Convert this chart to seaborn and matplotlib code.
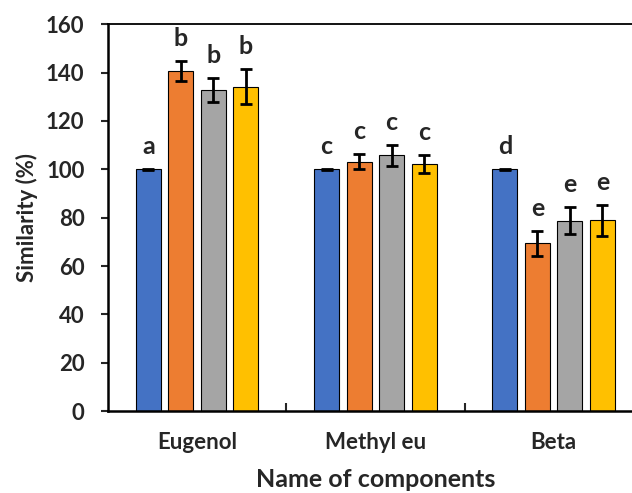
import pandas as pd
import seaborn as sns
import matplotlib.pyplot as plt
import numpy as np

# Data
components = ["Eugenol", "Methyl eu", "Beta"]
treatments = ["T1", "T2", "T3", "T4"]
means = {
    "T1": [100.0, 100.0, 100.0],
    "T2": [140.6, 103.2, 69.4],
    "T3": [132.8, 105.7, 78.8],
    "T4": [134.2, 102.3, 78.9],
}
errors = {
    "T1": [0.3, 0.3, 0.3],
    "T2": [4.3, 3.0, 5.1],
    "T3": [5.1, 4.4, 5.7],
    "T4": [7.2, 3.8, 6.5],
}
letters = {
    "T1": ["a", "c", "d"],
    "T2": ["b", "c", "e"],
    "T3": ["b", "c", "e"],
    "T4": ["b", "c", "e"],
}
colors = ["#4472C4", "#ED7D31", "#A5A5A5", "#FFC000"]

rows = []
for t in treatments:
    for i, c in enumerate(components):
        rows.append({"component": c, "treatment": t, "value": means[t][i],
                     "err": errors[t][i], "letter": letters[t][i]})
df = pd.DataFrame(rows)

sns.set_style("white")
plt.rcParams["font.family"] = ["Lato", "DejaVu Sans"]
plt.rcParams["font.weight"] = "bold"

fig = plt.figure(figsize=(6.32, 4.93), dpi=100)
ax = fig.add_axes([0.171, 0.166, 0.846, 0.785])

sns.barplot(data=df, x="component", y="value", hue="treatment", order=components,
            hue_order=treatments, palette=colors, width=0.73, gap=0.23,
            errorbar=None, edgecolor="black", linewidth=0.8, saturation=1,
            legend=False, ax=ax)

# error bars and significance letters on top of each bar
for t, cont in zip(treatments, ax.containers):
    for i, p in enumerate(cont.patches):
        xc = p.get_x() + p.get_width() / 2
        top = means[t][i] + errors[t][i]
        ax.errorbar(xc, means[t][i], yerr=errors[t][i], color="black",
                    capsize=4, elinewidth=2, capthick=2)
        ax.text(xc, top + 4.5, letters[t][i], ha="center", va="bottom",
                fontsize=18, fontweight="bold")

ax.set_ylim(0, 160)
ax.set_yticks(range(0, 161, 20))
ax.set_xlim(-0.5, 2.5)
ax.set_xticks([0, 1, 2])
ax.set_xticks([0.5, 1.5], minor=True)
ax.tick_params(axis="x", which="major", length=0, labelsize=16, pad=15)
ax.tick_params(axis="x", which="minor", direction="in", length=6, width=1.5, bottom=True)
ax.tick_params(axis="y", direction="out", length=5, width=1.5, labelsize=16, left=True, pad=12)
for lbl in ax.get_xticklabels() + ax.get_yticklabels():
    lbl.set_fontweight("bold")

ax.set_xlabel("Name of components", fontsize=18, fontweight="bold", labelpad=11)
ax.set_ylabel("Similarity (%)", fontsize=16, fontweight="bold", labelpad=6)

for s in ["left", "bottom"]:
    ax.spines[s].set_linewidth(1.8)
    ax.spines[s].set_color("black")
ax.spines["top"].set_linewidth(1.3)
ax.spines["top"].set_color("black")
ax.spines["right"].set_visible(False)

fig.savefig("out.png", dpi=100)
plt.close()
